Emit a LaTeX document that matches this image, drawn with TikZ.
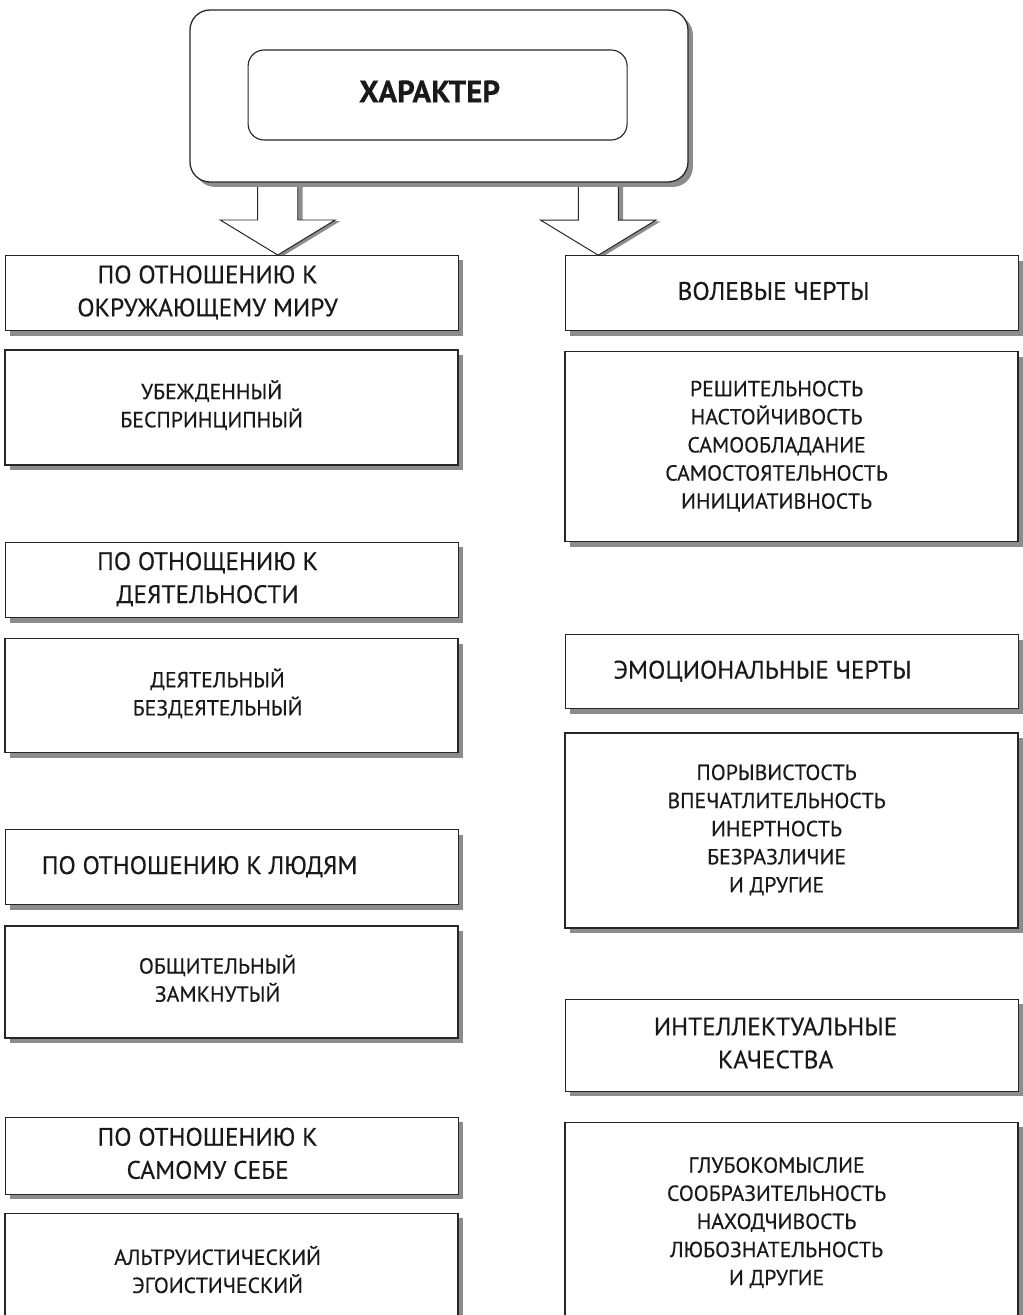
\documentclass[tikz,border=0pt]{standalone}
\usepackage{fontspec}
\setmainfont{PT Sans}[FakeBold=0.35]
\usetikzlibrary{positioning,calc,shadows,backgrounds}
% centred lines, pushed a little to the left
\newcommand{\padlines}[2][1cm]{\begin{tabular}{@{}c@{\hspace{#1}}}#2\end{tabular}}

\begin{document}
\begin{tikzpicture}[
    font=\fontsize{15.5}{20}\selectfont,
    text=black!90,
    node distance=5mm and 26.5mm,
    shadowed/.style={drop shadow={shadow xshift=3.5pt, shadow yshift=-3.5pt, fill=black!45, opacity=1}},
    framebox/.style={draw=black!85, line width=0.9pt, rounded corners=5mm, fill=white, minimum width=12.45cm, minimum height=4.3cm, shadowed},
    titlebox/.style={draw=black!85, line width=0.8pt, rounded corners=4mm, minimum width=9.475cm, minimum height=2.25cm, font=\fontsize{22}{26}\selectfont\bfseries},
    headbox/.style={draw=black!85, line width=0.7pt, fill=white, minimum width=11.325cm, font=\fontsize{18}{23.5}\selectfont, shadowed},
    listbox/.style={draw=black!85, line width=0.9pt, fill=white, minimum width=11.325cm, shadowed},
    blockarr/.style={draw=black!85, line width=0.7pt, fill=white, drop shadow={shadow xshift=3.5pt, shadow yshift=-0.8pt, fill=black!45, opacity=1}}
]
\useasboundingbox (0,0) rectangle (25.575,-32.875);
\clip (0,0) rectangle (25.575,-32.875);

\node[framebox] (char) at (10.975,-2.4) {};
\node[titlebox] (title) at (10.94,-2.375) {\padlines[0.4cm]{ХАРАКТЕР}};

% left column
\node[headbox, minimum height=1.875cm, anchor=north] (hWorld) at (5.79,-6.375) {\padlines[1.2cm]{ПО ОТНОШЕНИЮ К\\ОКРУЖАЮЩЕМУ МИРУ}};
\node[listbox, minimum height=2.875cm, below=4.5mm of hWorld] (bWorld) {\padlines{УБЕЖДЕННЫЙ\\БЕСПРИНЦИПНЫЙ}};
\node[headbox, minimum height=1.825cm, below=19mm of bWorld] (hWork) {\padlines[1.2cm]{ПО ОТНОЩЕНИЮ К\\ДЕЯТЕЛЬНОСТИ}};
\node[listbox, minimum height=2.85cm, below=of hWork] (bWork) {\padlines[0.7cm]{ДЕЯТЕЛЬНЫЙ\\БЕЗДЕЯТЕЛЬНЫЙ}};
\node[headbox, minimum height=1.875cm, below=19mm of bWork] (hPeople) {\padlines[1.6cm]{ПО ОТНОШЕНИЮ К ЛЮДЯМ}};
\node[listbox, minimum height=2.8cm, below=of hPeople] (bPeople) {\padlines[0.7cm]{ОБЩИТЕЛЬНЫЙ\\ЗАМКНУТЫЙ}};
\node[headbox, minimum height=1.925cm, below=19.5mm of bPeople] (hSelf) {\padlines[1.2cm]{ПО ОТНОШЕНИЮ К\\САМОМУ СЕБЕ}};
\node[listbox, minimum height=3cm, below=4.5mm of hSelf] (bSelf) {\padlines[0.7cm]{АЛЬТРУИСТИЧЕСКИЙ\\ЭГОИСТИЧЕСКИЙ}};

% right column
\node[headbox, minimum height=1.875cm, right=26.5mm of hWorld] (hWill) {\padlines[0.9cm]{ВОЛЕВЫЕ ЧЕРТЫ}};
\node[listbox, minimum height=4.75cm, below=of hWill] (bWill) {\padlines[0.75cm]{РЕШИТЕЛЬНОСТЬ\\НАСТОЙЧИВОСТЬ\\САМООБЛАДАНИЕ\\САМОСТОЯТЕЛЬНОСТЬ\\ИНИЦИАТИВНОСТЬ}};
\node[headbox, minimum height=1.85cm, below=23mm of bWill] (hEmo) {\padlines[1.45cm]{ЭМОЦИОНАЛЬНЫЕ ЧЕРТЫ}};
\node[listbox, minimum height=4.875cm, below=5.75mm of hEmo] (bEmo) {\padlines[0.75cm]{ПОРЫВИСТОСТЬ\\ВПЕЧАТЛИТЕЛЬНОСТЬ\\ИНЕРТНОСТЬ\\БЕЗРАЗЛИЧИЕ\\И ДРУГИЕ}};
\node[headbox, minimum height=2.3cm, below=17.5mm of bEmo] (hIntel) {\padlines[0.8cm]{ИНТЕЛЛЕКТУАЛЬНЫЕ\\КАЧЕСТВА}};
\node[listbox, minimum height=5.05cm, below=7.5mm of hIntel] (bIntel) {\padlines[0.75cm]{ГЛУБОКОМЫСЛИЕ\\СООБРАЗИТЕЛЬНОСТЬ\\НАХОДЧИВОСТЬ\\ЛЮБОЗНАТЕЛЬНОСТЬ\\И ДРУГИЕ}};

% block arrows
\coordinate (startL) at ($(char.south west)!0.177!(char.south east)$);
\coordinate (startR) at ($(char.south west)!0.819!(char.south east)$);
\coordinate (tipL) at (startL |- hWorld.north);
\coordinate (tipR) at (startR |- hWill.north);
\begin{scope}[on background layer]
\foreach \s/\t in {startL/tipL, startR/tipR}
  \draw[blockarr] ($(\s)+(-0.5,0)$) -- ($(\t)+(-0.5,0.875)$) -- ($(\t)+(-1.4375,0.875)$) -- (\t)
    -- ($(\t)+(1.4375,0.875)$) -- ($(\t)+(0.5,0.875)$) -- ($(\s)+(0.5,0)$);
\end{scope}

\end{tikzpicture}
\end{document}
